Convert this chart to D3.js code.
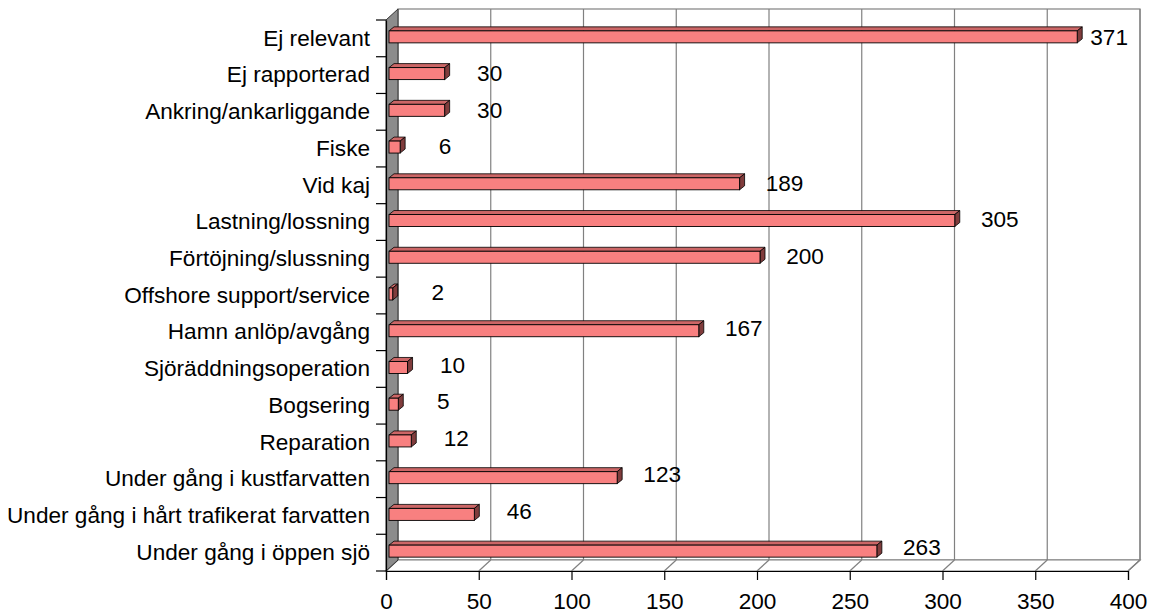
<!DOCTYPE html>
<html>
<head>
<meta charset="utf-8">
<script src="https://cdn.jsdelivr.net/npm/d3@7"></script>
<style>
  html, body { margin: 0; padding: 0; background: #fff; }
  svg { display: block; font-family: "Liberation Sans", Arial, sans-serif; }
</style>
</head>
<body>
<svg id="chart" width="1154" height="614"></svg>
<script>
const categories = [
  "Ej relevant",
  "Ej rapporterad",
  "Ankring/ankarliggande",
  "Fiske",
  "Vid kaj",
  "Lastning/lossning",
  "Förtöjning/slussning",
  "Offshore support/service",
  "Hamn anlöp/avgång",
  "Sjöräddningsoperation",
  "Bogsering",
  "Reparation",
  "Under gång i kustfarvatten",
  "Under gång i hårt trafikerat farvatten",
  "Under gång i öppen sjö"
];
const values = [371, 30, 30, 6, 189, 305, 200, 2, 167, 10, 5, 12, 123, 46, 263];
const xTicks = [0, 50, 100, 150, 200, 250, 300, 350, 400];

const svg = d3.select("#chart");
const FS = 22.6;

// geometry
const front = { left: 386, right: 1128, top: 20, bottom: 571 };
const depth = { dx: 12, dy: -11 };
const barDepth = { dx: 5, dy: -4 };

const x = d3.scaleLinear().domain([0, 400]).range([front.left, front.right]);
const y = d3.scaleBand().domain(categories).range([front.top, front.bottom]).padding(0);
const yLabel = d3.scalePoint().domain(categories).range([37.5, 547.5]);

const gray = "#808080";

// back wall
svg.append("rect")
  .attr("x", front.left + depth.dx).attr("y", front.top + depth.dy)
  .attr("width", front.right - front.left).attr("height", front.bottom - front.top)
  .attr("fill", "#fff").attr("stroke", gray).attr("stroke-width", 1.2);

// back gridlines
svg.append("g").selectAll("line").data(xTicks.slice(1)).join("line")
  .attr("x1", d => x(d) + depth.dx).attr("x2", d => x(d) + depth.dx)
  .attr("y1", front.top + depth.dy).attr("y2", front.bottom + depth.dy)
  .attr("stroke", gray).attr("stroke-width", 1.2);

// floor
svg.append("path")
  .attr("d", `M${front.left},${front.bottom} L${front.left + depth.dx},${front.bottom + depth.dy} L${front.right + depth.dx},${front.bottom + depth.dy} L${front.right},${front.bottom} Z`)
  .attr("fill", "#fff").attr("stroke", gray).attr("stroke-width", 1.2);
svg.append("g").selectAll("line").data(xTicks.slice(1)).join("line")
  .attr("x1", d => x(d)).attr("y1", front.bottom)
  .attr("x2", d => x(d) + depth.dx).attr("y2", front.bottom + depth.dy)
  .attr("stroke", gray).attr("stroke-width", 1.2);

// side wall
svg.append("path")
  .attr("d", `M${front.left},${front.top} L${front.left + depth.dx},${front.top + depth.dy} L${front.left + depth.dx},${front.bottom + depth.dy} L${front.left},${front.bottom} Z`)
  .attr("fill", "#8c8c8c").attr("stroke", "#333").attr("stroke-width", 1);

// bars
const bx = 3, byTop = -7.5, byBot = 4.5;
const bars = svg.append("g").selectAll("g").data(categories).join("g");
bars.each(function(c, i) {
  const g = d3.select(this);
  const cy = y(c) + y.bandwidth() / 2;
  const x0 = x(0) + bx, x1 = x(values[i]) + bx;
  const yt = cy + byTop, yb = cy + byBot;
  // top face
  g.append("path")
    .attr("d", `M${x0},${yt} L${x0 + barDepth.dx},${yt + barDepth.dy} L${x1 + barDepth.dx},${yt + barDepth.dy} L${x1},${yt} Z`)
    .attr("fill", "#cc6666").attr("stroke", "#000").attr("stroke-width", 0.8).attr("stroke-linejoin", "round");
  // side face
  g.append("path")
    .attr("d", `M${x1},${yt} L${x1 + barDepth.dx},${yt + barDepth.dy} L${x1 + barDepth.dx},${yb + barDepth.dy} L${x1},${yb} Z`)
    .attr("fill", "#803c3c").attr("stroke", "#000").attr("stroke-width", 0.8).attr("stroke-linejoin", "round");
  // front face
  g.append("rect")
    .attr("x", x0).attr("y", yt).attr("width", x1 - x0).attr("height", yb - yt)
    .attr("fill", "#f88080").attr("stroke", "#000").attr("stroke-width", 0.9);
});

// category axis
const yAxis = d3.axisLeft(y).tickSize(0).tickPadding(16);
const yAxisG = svg.append("g").attr("transform", `translate(${front.left},0)`).call(yAxis);
yAxisG.select(".domain").attr("stroke", "#000").attr("stroke-width", 1.2);
yAxisG.selectAll("text").attr("font-size", FS).attr("fill", "#000")
  .attr("font-family", "'Liberation Sans', Arial, sans-serif");
// category boundary ticks
const bounds = d3.range(categories.length + 1).map(i => front.top + i * y.step());
svg.append("g").selectAll("line").data(bounds).join("line")
  .attr("x1", front.left - 10).attr("x2", front.left)
  .attr("y1", d => d).attr("y2", d => d)
  .attr("stroke", "#000").attr("stroke-width", 1.2);

// value axis
const xAxis = d3.axisBottom(x).tickValues(xTicks).tickSize(9).tickPadding(13);
const xAxisG = svg.append("g").attr("transform", `translate(0,${front.bottom})`).call(xAxis);
xAxisG.select(".domain").attr("stroke", "#000").attr("stroke-width", 1.2);
xAxisG.selectAll(".tick line").attr("stroke", "#000").attr("stroke-width", 1.2);
xAxisG.selectAll("text").attr("font-size", FS).attr("fill", "#000")
  .attr("font-family", "'Liberation Sans', Arial, sans-serif");

// value labels
const labels = svg.append("g").selectAll("text").data(categories).join("text")
  .attr("font-size", FS).attr("fill", "#000")
  .attr("text-anchor", "middle")
  .attr("dominant-baseline", "central")
  .attr("y", c => yLabel(c))
  .text((c, i) => values[i]);
labels.each(function(c, i) {
  const w = this.getComputedTextLength();
  let cx = x(values[i]) + 48;
  if (cx + w / 2 > front.right) cx = front.right - w / 2;
  d3.select(this).attr("x", cx);
});
</script>
</body>
</html>
